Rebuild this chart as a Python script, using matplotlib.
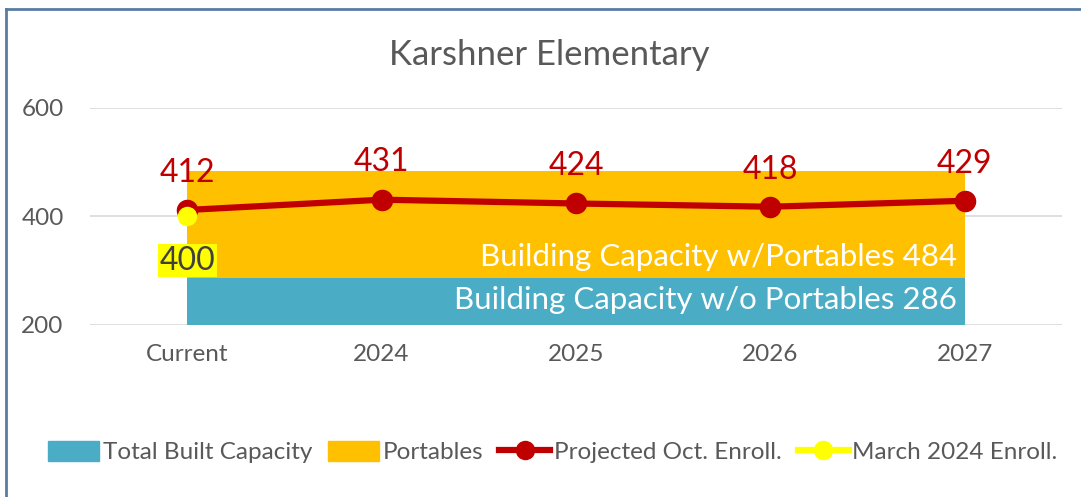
import matplotlib
matplotlib.use('Agg')

import numpy as np
import matplotlib.pyplot as plt
from matplotlib.lines import Line2D
from matplotlib.patches import Patch

plt.rcParams['font.family'] = ['Lato', 'DejaVu Sans']

# Dane
categories  = ['Current', '2024', '2025', '2026', '2027']
built_cap   = [286, 286, 286, 286, 286]
portables   = [198, 198, 198, 198, 198]
projected   = [412, 431, 424, 418, 429]
march_2024  = [400]
title       = 'Karshner Elementary'
yticks      = [200, 400, 600]

TEAL   = '#4BACC6'
ORANGE = '#FFC000'
RED    = '#C00000'
YELLOW = '#FFFF00'
GRAY   = '#595959'

x = np.arange(len(categories))
total = np.array(built_cap) + np.array(portables)

fig = plt.figure(figsize=(10.81, 4.97), dpi=100)
ax = fig.add_axes([90/1081, 1 - 325/497, (1062 - 90)/1081, (325 - 108)/497])

ax.stackplot(x, built_cap, portables, colors=[TEAL, ORANGE], zorder=2)
ax.plot(x, projected, color=RED, lw=4.5, marker='o', ms=14.5, zorder=4)
ax.plot(x[:1], march_2024, color=YELLOW, lw=4.5, marker='o', ms=13, zorder=5)

for xi, v in zip(x, projected):
    ax.annotate(str(v), (xi, v), xytext=(0, 16), textcoords='offset points',
                ha='center', va='bottom', color=RED, fontsize=23)
ax.annotate(str(march_2024[0]), (x[0], march_2024[0]), xytext=(0, -21),
            textcoords='offset points', ha='center', va='top', color='#404040',
            fontsize=23, bbox=dict(boxstyle='square,pad=0.05', fc=YELLOW, ec='none'))

ax.text(x[-1] - 0.04, 326,
        f'Building Capacity w/Portables {total[0]}', color='white',
        fontsize=22.5, ha='right', va='center', zorder=3)
ax.text(x[-1] - 0.04, 246,
        f'Building Capacity w/o Portables {built_cap[0]}', color='white',
        fontsize=22.5, ha='right', va='center', zorder=3)

ax.set_xlim(-0.5, 4.5)
ax.set_ylim(200, 600)
ax.set_yticks(yticks)
ax.set_xticks(x)
ax.set_xticklabels(categories)
ax.tick_params(length=0, labelsize=17.5, labelcolor=GRAY)
ax.tick_params(axis='x', pad=14)
ax.tick_params(axis='y', pad=19)
ax.grid(axis='y', color='#D9D9D9', lw=1.2, zorder=0)
ax.set_axisbelow(True)
for s in ax.spines.values():
    s.set_visible(False)

fig.text(549/1081, 1 - 55/497, title, ha='center', va='center',
         fontsize=25, color=GRAY)

handles = [
    Patch(color=TEAL, label='Total Built Capacity'),
    Patch(color=ORANGE, label='Portables'),
    Line2D([], [], color=RED, lw=4.5, marker='o', ms=13, label='Projected Oct. Enroll.'),
    Line2D([], [], color=YELLOW, lw=4.5, marker='o', ms=13, label='March 2024 Enroll.'),
]
fig.legend(handles=handles, loc='center', bbox_to_anchor=(553/1081, 1 - 452/497),
           ncol=4, frameon=False, fontsize=17.5, labelcolor=GRAY,
           handlelength=2.1, handleheight=0.9, handletextpad=0.15, columnspacing=0.65)

# Ramka wykresu
fig.add_artist(Line2D([6/1081, 1], [1 - 9/497, 1 - 9/497], color='#5B7BA5', lw=2,
                      transform=fig.transFigure))
fig.add_artist(Line2D([6/1081, 6/1081], [0, 1 - 9/497], color='#5B7BA5', lw=2,
                      transform=fig.transFigure))

fig.savefig('out.png', dpi=100)
